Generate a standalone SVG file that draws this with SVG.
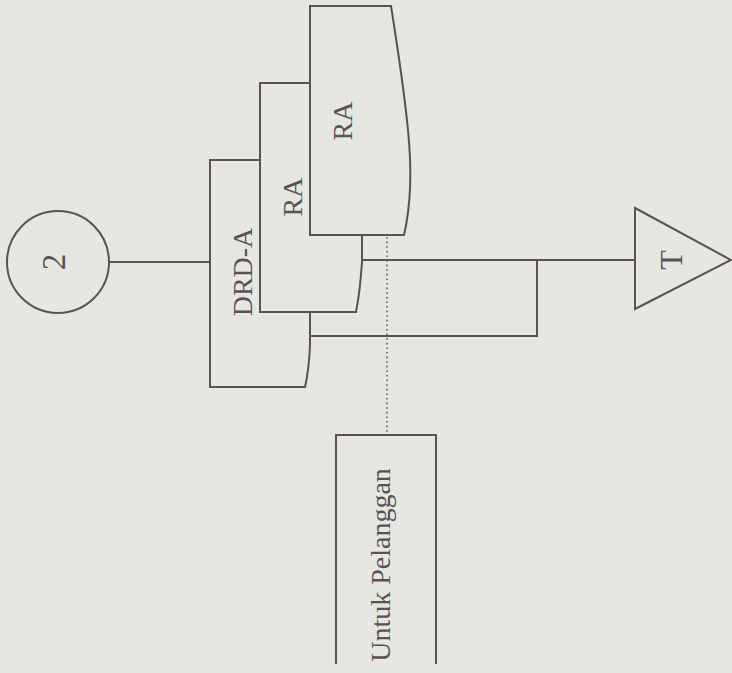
<svg xmlns="http://www.w3.org/2000/svg" width="732" height="673" viewBox="0 0 732 673">
  <style>
    .ln { fill: none; stroke: #5e5053; stroke-width: 2; stroke-linejoin: miter; }
    .nd { fill: #e6e7e1; stroke: #5e5053; stroke-width: 2; }
    .dot { fill: none; stroke: #6a5d60; stroke-width: 1.6; stroke-dasharray: 1.6 3; }
    .tx { font-family: "Liberation Serif", "DejaVu Serif", serif; font-size: 28px; fill: #5c5054; text-anchor: middle; }
  </style>
  <rect x="0" y="0" width="732" height="673" fill="#e6e7e1"/>

  <g id="connectors">
    <path class="ln" d="M109,262 H210"/>
    <path class="ln" d="M360,260 H635"/>
    <path class="ln" d="M309,336 H537 V260"/>
    <path class="dot" d="M387,237 V434"/>
  </g>

  <g id="node-connector-2">
    <circle class="nd" cx="58" cy="262" r="51"/>
    <text class="tx" style="font-size:33px" x="65" y="262" transform="rotate(-90 65 262)">2</text>
  </g>

  <g id="node-drd-a">
    <path class="nd" d="M210,160 H310 V345 Q309,370 305,387 H210 Z"/>
    <text class="tx" x="252" y="272" transform="rotate(-90 252 272)">DRD-A</text>
  </g>

  <g id="node-ra-1">
    <path class="nd" d="M260,83 H362 V262 Q360,292 356,312 H260 Z"/>
    <text class="tx" x="302" y="197" transform="rotate(-90 302 197)">RA</text>
  </g>

  <g id="node-ra-2">
    <path class="nd" d="M310,6 H391 C398,50 404,90 408,130 C412,170 411,205 404,235 H310 Z"/>
    <text class="tx" x="352" y="121" transform="rotate(-90 352 121)">RA</text>
  </g>

  <g id="node-untuk-pelanggan">
    <path class="ln" d="M336,664 V435 H436 V664"/>
    <text class="tx" x="390" y="565" transform="rotate(-90 390 565)">Untuk Pelanggan</text>
  </g>

  <g id="node-terminal-t">
    <path class="nd" d="M635,208 L731,260 L635,309 Z"/>
    <text class="tx" style="font-size:32px" x="682" y="260" transform="rotate(-90 682 260)">T</text>
  </g>
</svg>
